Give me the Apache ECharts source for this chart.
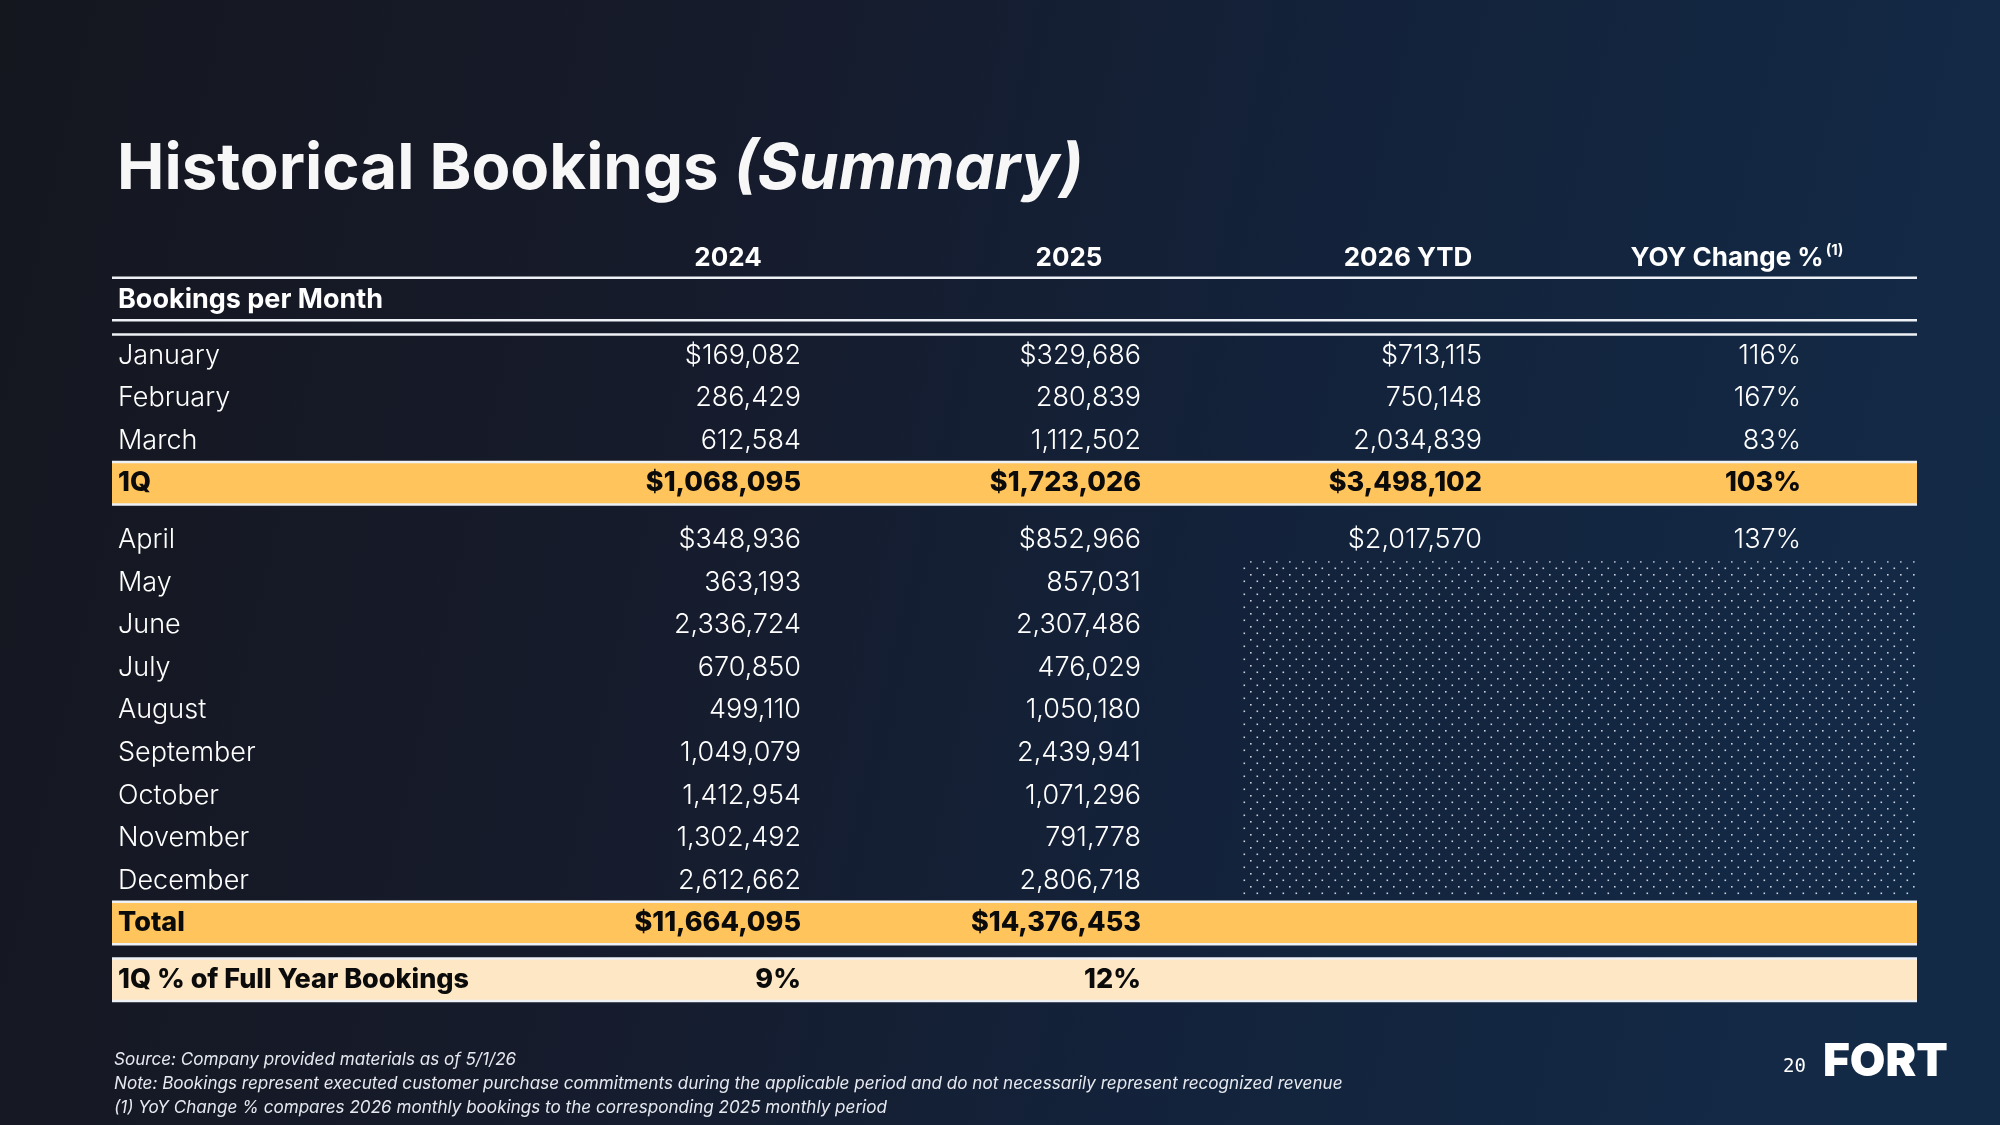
<!DOCTYPE html>
<html lang="en">
<head>
    <meta charset="UTF-8">
    <title>Historical Bookings</title>
    <style>
        html, body { margin: 0; padding: 0; background: #151c2c; }
        #main { width: 2000px; height: 1125px; }
    </style>
</head>
<body>
<div id="main"></div>
<script src="https://cdn.jsdelivr.net/npm/echarts@6/dist/echarts.min.js"></script>
<script>
    // values
    var months = ['January', 'February', 'March', 'April', 'May', 'June', 'July',
        'August', 'September', 'October', 'November', 'December'];
    var columns = ['2024', '2025', '2026 YTD', 'YOY Change %'];
    var bookings2024 = [169082, 286429, 612584, 348936, 363193, 2336724, 670850,
        499110, 1049079, 1412954, 1302492, 2612662];
    var bookings2025 = [329686, 280839, 1112502, 852966, 857031, 2307486, 476029,
        1050180, 2439941, 1071296, 791778, 2806718];
    var bookings2026 = [713115, 750148, 2034839, 2017570];
    var yoyChange = [116, 167, 83, 137];
    var q1Values = [1068095, 1723026, 3498102];
    var q1Yoy = 103;
    var totals = [11664095, 14376453];
    var q1Share = [9, 12];
    var footnotes = [
        'Source: Company provided materials as of 5/1/26',
        'Note: Bookings represent executed customer purchase commitments during the applicable period and do not necessarily represent recognized revenue',
        '(1) YoY Change % compares 2026 monthly bookings to the corresponding 2025 monthly period'
    ];

    // layout (pixels on x, row units on y)
    var tableLeft = 112, tableRight = 1917;
    var labelX = 118;
    var colRight = [801, 1141, 1482, 1801];
    var colCenter = [728, 1069, 1408, 1737];
    var bodyFont = 'Inter, "Noto Sans", sans-serif';
    var white = '#ffffff';
    var ink = '#0b0b0b';

    function fmt(n) { return n.toLocaleString('en-US'); }
    function monthRow(i) { return i < 3 ? 7 + 3 * i : 20 + 3 * (i - 3); }

    // text cells
    var cells = [];
    function cell(x, y, text, align, weight, color) {
        cells.push({x: x, y: y, text: text, align: align, weight: weight, color: color});
    }
    columns.forEach(function (c, i) {
        cell(colCenter[i], 0.1, i === 3 ? '{h|' + c + '}{sup|(1)}' : '{h|' + c + '}', 'center', 'bold', white);
    });
    cell(labelX, 3.05, 'Bookings per Month', 'left', 'bold', white);
    months.forEach(function (m, i) {
        var y = monthRow(i);
        var pre = (i === 0 || i === 3) ? '$' : '';
        cell(labelX, y, m, 'left', 300, white);
        cell(colRight[0], y, pre + fmt(bookings2024[i]), 'right', 300, white);
        cell(colRight[1], y, pre + fmt(bookings2025[i]), 'right', 300, white);
        if (i < bookings2026.length) {
            cell(colRight[2], y, pre + fmt(bookings2026[i]), 'right', 300, white);
            cell(colRight[3], y, yoyChange[i] + '%', 'right', 300, white);
        }
    });
    cell(labelX, 16, '1Q', 'left', 800, ink);
    q1Values.forEach(function (v, i) {
        cell(colRight[i], 16, '$' + fmt(v), 'right', 800, ink);
    });
    cell(colRight[3], 16, q1Yoy + '%', 'right', 800, ink);
    cell(labelX, 47, 'Total', 'left', 800, ink);
    totals.forEach(function (v, i) {
        cell(colRight[i], 47, '$' + fmt(v), 'right', 800, ink);
    });
    cell(labelX, 51, '1Q % of Full Year Bookings', 'left', 800, ink);
    q1Share.forEach(function (v, i) {
        cell(colRight[i], 51, v + '%', 'right', 800, ink);
    });

    // bands: [top, bottom, colour]
    var bands = [[14.5, 17.5, '#ffc45c'], [45.5, 48.5, '#ffc45c'], [49.5, 52.5, '#fde7c5']];
    // separator lines
    var rules = [1.5, 4.5, 5.5, 14.5, 17.5, 45.5, 48.5, 49.5, 52.5];

    // dotted pattern for months without 2026 data
    var dotCanvas = document.createElement('canvas');
    dotCanvas.width = 13;
    dotCanvas.height = 13;
    var dctx = dotCanvas.getContext('2d');
    dctx.fillStyle = 'rgba(235,240,250,0.85)';
    dctx.fillRect(2, 2, 1.6, 1.6);
    dctx.fillRect(8.5, 8.5, 1.6, 1.6);

    var chart = echarts.init(document.getElementById('main'), null, {renderer: 'canvas'});

    var option = {
        animation: false,
        backgroundColor: {
            type: 'linear', x: 0, y: 0, x2: 1, y2: 0.4,
            colorStops: [
                {offset: 0, color: '#15171f'},
                {offset: 0.35, color: '#161b2b'},
                {offset: 0.65, color: '#13223a'},
                {offset: 1, color: '#132a47'}
            ]
        },
        grid: {left: 0, right: 0, top: 228, bottom: 131},
        xAxis: {type: 'value', min: 0, max: 2000, show: false},
        yAxis: {type: 'value', min: -2, max: 52, inverse: true, show: false},
        graphic: [
            {
                type: 'text', left: 117, top: 138,
                style: {
                    text: '{a|Historical Bookings }{b|(Summary)}',
                    rich: {
                        a: {fontFamily: bodyFont, fontWeight: 'bold', fontSize: 63.5, fill: '#f7f7f7'},
                        b: {fontFamily: bodyFont, fontWeight: 'bold', fontStyle: 'italic', fontSize: 63.5, fill: '#f7f7f7'}
                    }
                }
            },
            {
                type: 'group', left: 114, top: 1051,
                children: footnotes.map(function (t, i) {
                    return {
                        type: 'text', x: 0, y: i * 24,
                        style: {text: t, fontFamily: bodyFont, fontStyle: 'italic', fontSize: 17.1, fill: '#e6e9ef'}
                    };
                })
            },
            {
                type: 'text', left: 1783, top: 1058,
                style: {text: '20', fontFamily: '"DejaVu Sans Mono", monospace', fontSize: 19, fill: white}
            },
            {
                type: 'text', left: 1823, top: 1039,
                style: {text: 'FORT', fontFamily: bodyFont, fontWeight: 900, fontSize: 46, fill: white}
            }
        ],
        series: [
            {
                type: 'custom',
                name: 'pattern',
                data: [[1241, 21.5, 45.2]],
                renderItem: function (params, api) {
                    var p0 = api.coord([api.value(0), api.value(1)]);
                    var p1 = api.coord([tableRight, api.value(2)]);
                    return {
                        type: 'rect',
                        shape: {x: p0[0], y: p0[1], width: p1[0] - p0[0], height: p1[1] - p0[1]},
                        style: {fill: {image: dotCanvas, repeat: 'repeat'}}
                    };
                }
            },
            {
                type: 'custom',
                name: 'bands',
                data: bands.map(function (b, i) { return [tableLeft, b[0], b[1], i]; }),
                renderItem: function (params, api) {
                    var p0 = api.coord([api.value(0), api.value(1)]);
                    var p1 = api.coord([tableRight, api.value(2)]);
                    return {
                        type: 'rect',
                        shape: {x: p0[0], y: p0[1], width: p1[0] - p0[0], height: p1[1] - p0[1]},
                        style: {fill: bands[api.value(3)][2]}
                    };
                }
            },
            {
                type: 'custom',
                name: 'rules',
                data: rules.map(function (r) { return [tableLeft, r]; }),
                renderItem: function (params, api) {
                    var p0 = api.coord([api.value(0), api.value(1)]);
                    var p1 = api.coord([tableRight, api.value(1)]);
                    return {
                        type: 'line',
                        shape: {x1: p0[0], y1: p0[1], x2: p1[0], y2: p1[1]},
                        style: {stroke: '#eef1f5', lineWidth: 2.5}
                    };
                }
            },
            {
                type: 'custom',
                name: 'cells',
                data: cells.map(function (c, i) { return [c.x, c.y, i]; }),
                renderItem: function (params, api) {
                    var c = cells[api.value(2)];
                    var p = api.coord([api.value(0), api.value(1)]);
                    var isHeader = c.text.charAt(0) === '{';
                    return {
                        type: 'text',
                        x: p[0], y: p[1],
                        style: {
                            text: c.text,
                            align: c.align,
                            verticalAlign: 'middle',
                            fontFamily: bodyFont,
                            fontWeight: c.weight,
                            fontSize: 27,
                            fill: c.color,
                            rich: isHeader ? {
                                h: {fontFamily: bodyFont, fontWeight: 'bold', fontSize: 26, fill: white},
                                sup: {fontFamily: bodyFont, fontWeight: 'bold', fontSize: 15, fill: white, verticalAlign: 'top', padding: [0, 0, 14, 2]}
                            } : undefined
                        }
                    };
                }
            }
        ]
    };
    chart.setOption(option);
</script>
</body>
</html>
